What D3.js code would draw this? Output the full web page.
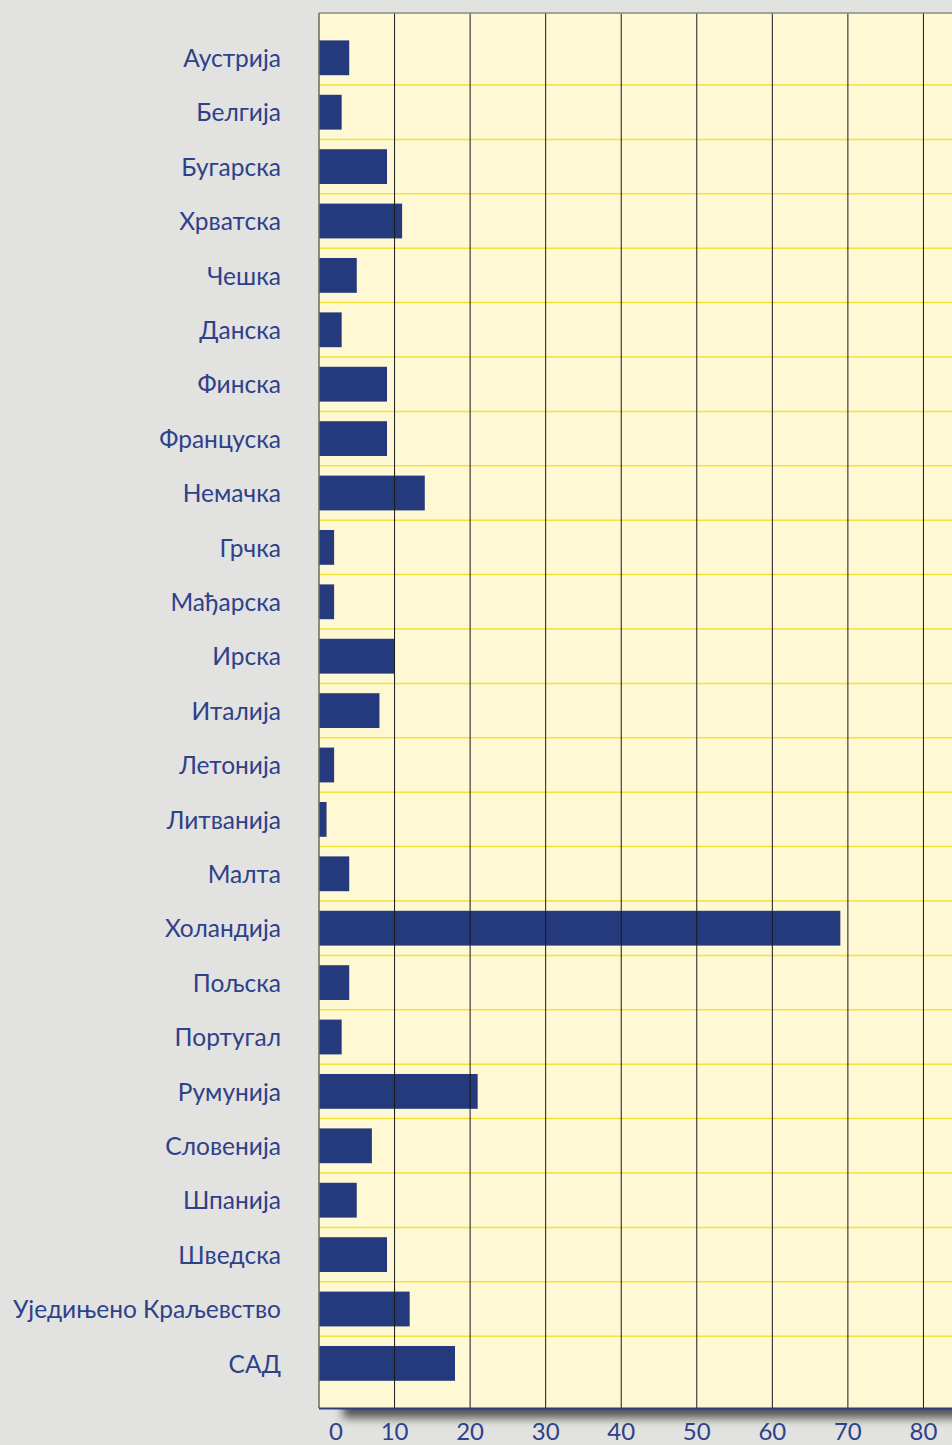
<!DOCTYPE html>
<html><head><meta charset="utf-8">
<script src="https://cdn.jsdelivr.net/npm/d3@7"></script>
<style>html,body{margin:0;padding:0;background:#e2e2e0;overflow:hidden}</style>
</head><body>
<svg id="c" width="952" height="1445"></svg>
<script>
const categories = ["Аустрија","Белгија","Бугарска","Хрватска","Чешка","Данска","Финска","Француска","Немачка","Грчка","Мађарска","Ирска","Италија","Летонија","Литванија","Малта","Холандија","Пољска","Португал","Румунија","Словенија","Шпанија","Шведска","Уједињено Краљевство","САД"];
const values = [4,3,9,11,5,3,9,9,14,2,2,10,8,2,1,4,69,4,3,21,7,5,9,12,18];
const tickValues = [0,10,20,30,40,50,60,70,80];

(function(){
const svg = d3.select("#c");
const pLeft = 319, pTop = 13, pBottom = 1408, pRight = 999;
const x = d3.scaleLinear().domain([0,90]).range([pLeft,pRight]);
const y = d3.scaleBand().domain(categories).range([30.6,1390.6]).paddingInner(0.36).paddingOuter(0.18);

const defs = svg.append("defs");
const f = defs.append("filter").attr("id","sh").attr("x","-10%").attr("y","-10%").attr("width","130%").attr("height","130%");
f.append("feGaussianBlur").attr("stdDeviation",5);

// shadow
svg.append("rect").attr("x",pLeft+24).attr("y",pTop+10).attr("width",pRight-pLeft).attr("height",pBottom-pTop)
  .attr("fill","#3a3a3a").attr("opacity",0.85).attr("filter","url(#sh)");

svg.append("rect").attr("x",pLeft).attr("y",pTop).attr("width",pRight-pLeft+40).attr("height",pBottom-pTop).attr("fill","#fef8d5");

// yellow horizontal separators
const step = y.step();
svg.append("g").selectAll("line").data(categories.slice(1)).join("line")
  .attr("x1",pLeft).attr("x2",952)
  .attr("y1",d=>y(d)-step*y.paddingInner()/2).attr("y2",d=>y(d)-step*y.paddingInner()/2)
  .attr("stroke","#f4e234").attr("stroke-width",1.5);

// bars
svg.append("g").selectAll("rect").data(categories).join("rect")
  .attr("x",x(0)).attr("y",d=>y(d))
  .attr("width",(d,i)=>x(values[i])-x(0)).attr("height",y.bandwidth())
  .attr("fill","#253a7d");

// vertical grid
svg.append("g").selectAll("line").data(tickValues.slice(1)).join("line")
  .attr("x1",d=>x(d)).attr("x2",d=>x(d)).attr("y1",pTop).attr("y2",pBottom)
  .attr("stroke","#1a1a1a").attr("stroke-width",1);

// top border
svg.append("line").attr("x1",pLeft).attr("x2",952).attr("y1",pTop).attr("y2",pTop).attr("stroke","#8a8a88").attr("stroke-width",1.5);
// left axis line
svg.append("line").attr("x1",pLeft).attr("x2",pLeft).attr("y1",pTop).attr("y2",pBottom).attr("stroke","#6e6a5a").attr("stroke-width",1.5);
// bottom axis line
svg.append("line").attr("x1",pLeft).attr("x2",952).attr("y1",pBottom+0.5).attr("y2",pBottom+0.5).attr("stroke","#2b3d84").attr("stroke-width",2);

// tick labels
svg.append("g").selectAll("text").data(tickValues).join("text")
  .attr("x",d=>d===0?x(d)+17:x(d)).attr("y",1440)
  .attr("text-anchor","middle")
  .attr("font-family","Lato, sans-serif").attr("font-size",24)
  .attr("fill","#2e4189").text(d=>d);

// category labels
svg.append("g").selectAll("text").data(categories).join("text")
  .attr("x",281).attr("y",d=>y(d)+y.bandwidth()/2+9.2)
  .attr("text-anchor","end")
  .attr("font-family","Lato, sans-serif").attr("font-size",24.5)
  .attr("fill","#2e4189").text(d=>d);
})();
</script>
</body></html>
